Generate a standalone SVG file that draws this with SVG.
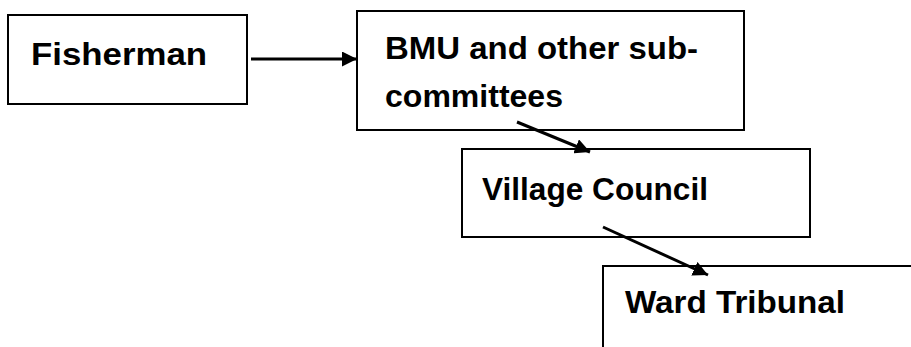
<svg xmlns="http://www.w3.org/2000/svg" width="911" height="347" viewBox="0 0 911 347">
<style>
.box{fill:#fff;stroke:#000;stroke-width:2}
.t{font-family:"Liberation Sans",Arial,sans-serif;font-weight:bold;font-size:32px;fill:#000}
.c{stroke:#000;stroke-width:3;fill:none}
</style>
<defs>
<marker id="ah" viewBox="0 0 10 10" refX="10" refY="5" markerWidth="5" markerHeight="5" markerUnits="strokeWidth" orient="auto">
<path d="M0,0 L10,5 L0,10 Z" fill="#000"/>
</marker>
</defs>
<rect width="911" height="347" fill="#fff"/>
<g id="fisherman">
<rect class="box" x="8" y="15" width="239" height="89"/>
<text class="t" x="31" y="65" textLength="176" lengthAdjust="spacingAndGlyphs">Fisherman</text>
</g>
<g id="bmu">
<rect class="box" x="357" y="11" width="387" height="119"/>
<text class="t" x="385" y="59" textLength="313" lengthAdjust="spacingAndGlyphs">BMU and other sub-</text>
<text class="t" x="385" y="107" textLength="178" lengthAdjust="spacingAndGlyphs">committees</text>
</g>
<g id="village">
<rect class="box" x="462" y="149" width="348" height="88"/>
<text class="t" x="482" y="200" textLength="226" lengthAdjust="spacingAndGlyphs">Village Council</text>
</g>
<g id="ward">
<rect class="box" x="603" y="266" width="330" height="100"/>
<text class="t" x="625" y="313" textLength="220" lengthAdjust="spacingAndGlyphs">Ward Tribunal</text>
</g>
<g id="connectors">
<line class="c" x1="251" y1="59" x2="357" y2="59" marker-end="url(#ah)"/>
<line class="c" x1="517" y1="122" x2="590" y2="152" marker-end="url(#ah)"/>
<line class="c" x1="603" y1="227" x2="708" y2="275" marker-end="url(#ah)"/>
</g>
</svg>
